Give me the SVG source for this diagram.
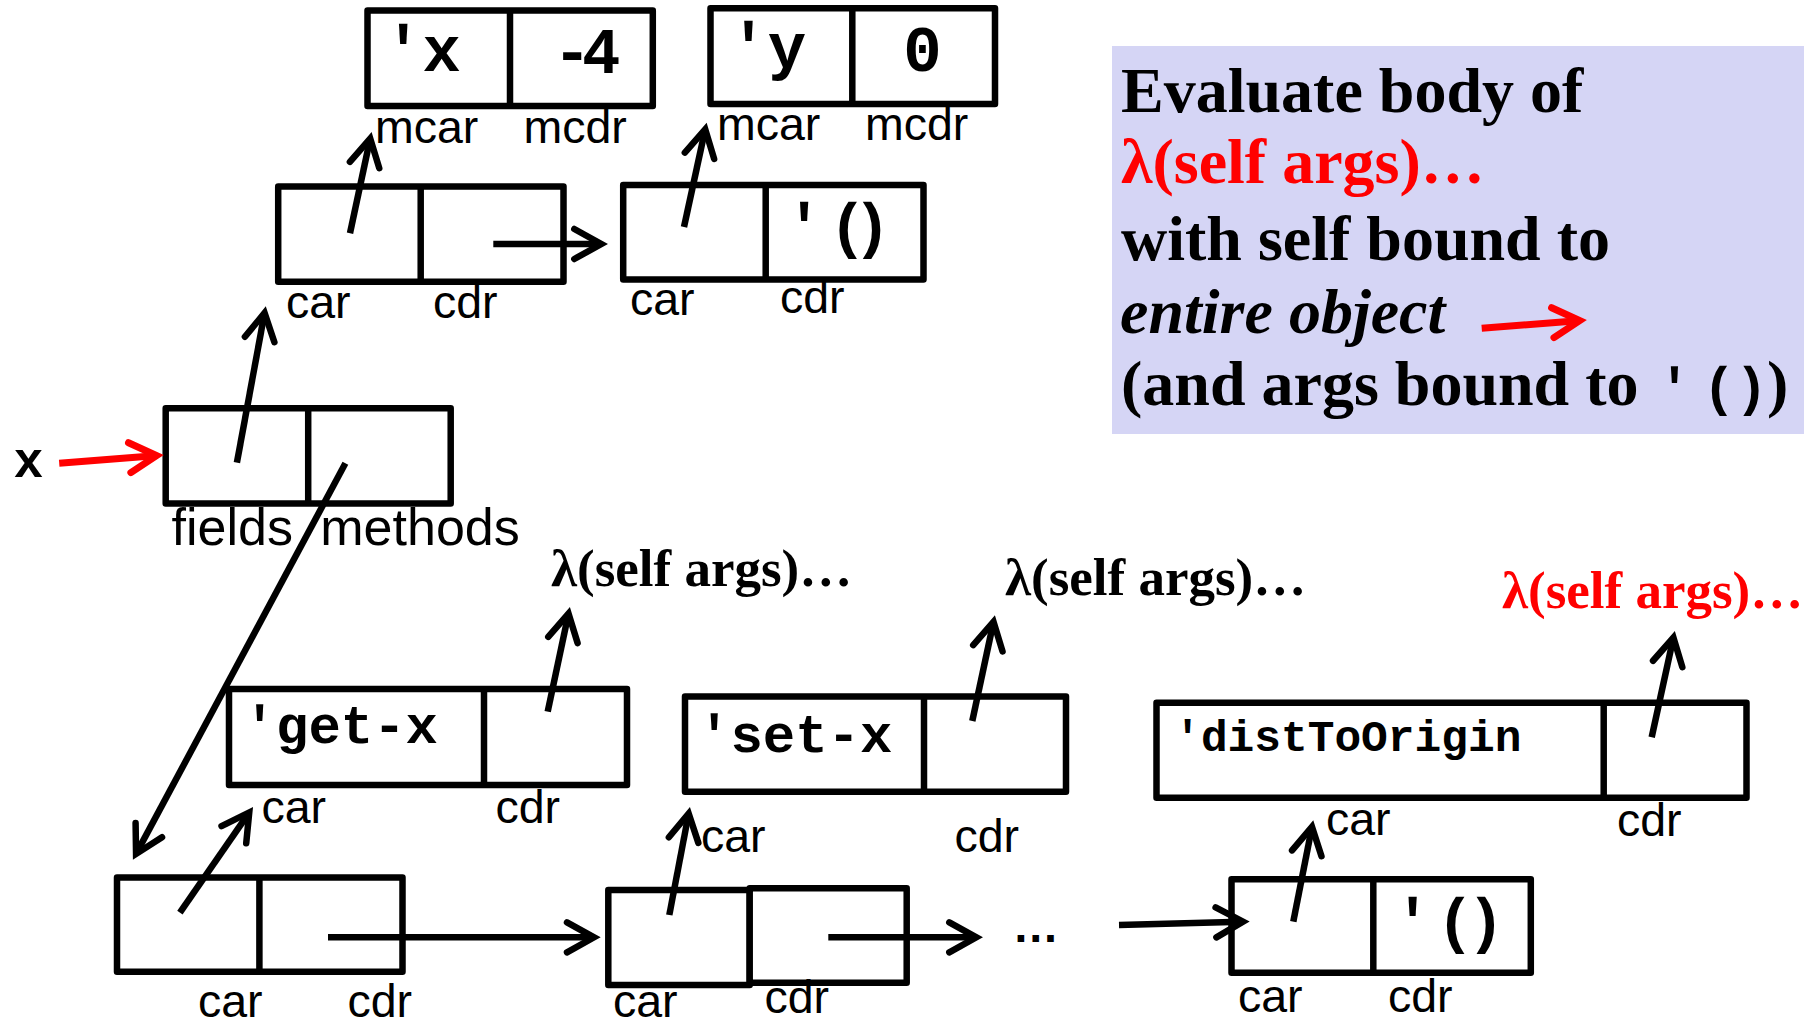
<svg xmlns="http://www.w3.org/2000/svg" width="1820" height="1028" viewBox="0 0 1820 1028">
<defs>
<style>
.box{fill:#fff;stroke:#000;stroke-width:6.5;stroke-linejoin:round}
.dv{stroke:#000;stroke-width:6.5}
.lbl{font-family:"Liberation Sans",Arial,sans-serif;font-size:46.5px;fill:#000}
.big{font-size:52px}
.mono{font-family:"Liberation Mono","Courier New",monospace;font-weight:bold;fill:#000}
.ser{font-family:"Liberation Serif","Times New Roman",serif;font-weight:bold;fill:#000}
.red{fill:#f00}
.con{fill:none;stroke:#000;stroke-width:6.5;stroke-linecap:butt;marker-end:url(#ah)}
.conr{fill:none;stroke:#f00;stroke-width:7;stroke-linecap:butt;marker-end:url(#ahr)}
</style>
<marker id="ah" markerUnits="userSpaceOnUse" viewBox="-40 -25 60 50" markerWidth="60" markerHeight="50" refX="0" refY="0" orient="auto" overflow="visible">
<path d="M-25,-15 L2,0 L-25,15" fill="none" stroke="#000" stroke-width="6.5" stroke-linecap="round" stroke-linejoin="miter"/>
</marker>
<marker id="ahr" markerUnits="userSpaceOnUse" viewBox="-40 -25 60 50" markerWidth="60" markerHeight="50" refX="0" refY="0" orient="auto" overflow="visible">
<path d="M-25,-15 L2,0 L-25,15" fill="none" stroke="#f00" stroke-width="7" stroke-linecap="round" stroke-linejoin="miter"/>
</marker>
</defs>
<rect width="1820" height="1028" fill="#fff"/>

<g id="panel">
<rect x="1112" y="46" width="692" height="388" fill="#d5d5f5"/>
<text class="ser" font-size="64" x="1121" y="112">Evaluate body of</text>
<text class="ser red" font-size="64" x="1121" y="183">λ(self args)…</text>
<text class="ser" font-size="64" x="1121" y="260">with self bound to</text>
<text class="ser" font-size="64" font-style="italic" x="1120" y="333">entire object</text>
<text class="ser" font-size="64" x="1121" y="405">(and args bound to <tspan class="mono" font-size="54" x="1658.3 1702.8 1735.3">'()</tspan><tspan x="1767">)</tspan></text>
</g>

<g id="cell-x">
<rect class="box" x="367.5" y="10.5" width="285.3" height="95.5"/>
<line class="dv" x1="510" y1="10.5" x2="510" y2="106"/>
<text class="mono" font-size="64" x="384" y="71">'x</text>
<text class="mono" font-size="64" x="553 582" y="73">-4</text>
<text class="lbl" x="375" y="143">mcar</text>
<text class="lbl" x="523.5" y="143">mcdr</text>
</g>

<g id="cell-y">
<rect class="box" x="710.5" y="8.2" width="284.5" height="95.8"/>
<line class="dv" x1="852.3" y1="8.2" x2="852.3" y2="104"/>
<text class="mono" font-size="64" x="729.3" y="68">'y</text>
<text class="mono" font-size="64" x="903.3" y="71">0</text>
<text class="lbl" x="717" y="140">mcar</text>
<text class="lbl" x="865" y="140">mcdr</text>
</g>

<g id="fields-pair1">
<rect class="box" x="278.2" y="186.5" width="285.3" height="95.3"/>
<line class="dv" x1="420.7" y1="186.5" x2="420.7" y2="281.8"/>
<text class="lbl" x="286" y="318">car</text>
<text class="lbl" x="433" y="318">cdr</text>
</g>

<g id="fields-pair2">
<rect class="box" x="623.2" y="185" width="300.3" height="94.5"/>
<line class="dv" x1="765.7" y1="185" x2="765.7" y2="279.5"/>
<text class="mono" font-size="62" x="785.4 828.9 853.4" y="246">'()</text>
<text class="lbl" x="630" y="315">car</text>
<text class="lbl" x="780" y="313">cdr</text>
</g>

<g id="var-x">
<text class="mono" font-size="50" x="13.4" y="477">x</text>
</g>

<g id="object">
<rect class="box" x="165.7" y="408.2" width="285" height="95.3"/>
<line class="dv" x1="308.2" y1="408.2" x2="308.2" y2="503.5"/>
<text class="lbl big" x="171.5" y="545">fields</text>
<text class="lbl big" x="320.3" y="545">methods</text>
</g>

<g id="method-get-x">
<rect class="box" x="229" y="689" width="398" height="96"/>
<line class="dv" x1="484" y1="689" x2="484" y2="785"/>
<text class="mono" font-size="54" x="243.6" y="743">'get-x</text>
<text class="lbl" x="261.5" y="823">car</text>
<text class="lbl" x="495.5" y="823">cdr</text>
</g>

<g id="method-set-x">
<rect class="box" x="685" y="696.5" width="381" height="95.3"/>
<line class="dv" x1="924" y1="696.5" x2="924" y2="791.8"/>
<text class="mono" font-size="54" x="698" y="752">'set-x</text>
<text class="lbl" x="701" y="852">car</text>
<text class="lbl" x="954.5" y="852">cdr</text>
</g>

<g id="method-dist">
<rect class="box" x="1156.5" y="702.7" width="590" height="95"/>
<line class="dv" x1="1603.7" y1="702.7" x2="1603.7" y2="797.7"/>
<text class="mono" font-size="44.5" x="1174.2" y="751">'distToOrigin</text>
<text class="lbl" x="1326" y="835">car</text>
<text class="lbl" x="1617" y="836">cdr</text>
</g>

<g id="lambda-1">
<text class="ser" font-size="53" x="551" y="586">λ(self args)…</text>
</g>
<g id="lambda-2">
<text class="ser" font-size="53" x="1005" y="595">λ(self args)…</text>
</g>
<g id="lambda-3">
<text class="ser red" font-size="53" x="1502" y="608">λ(self args)…</text>
</g>

<g id="list-1">
<rect class="box" x="117" y="877.5" width="285.5" height="94.3"/>
<line class="dv" x1="259.4" y1="877.5" x2="259.4" y2="971.8"/>
<text class="lbl" x="198" y="1017">car</text>
<text class="lbl" x="347.5" y="1017">cdr</text>
</g>

<g id="list-2">
<rect class="box" x="608.3" y="890" width="141.4" height="95"/>
<rect class="box" x="749.7" y="888.2" width="157" height="94.6"/>
<text class="lbl" x="613" y="1017">car</text>
<text class="lbl" x="764.5" y="1013">cdr</text>
</g>

<g id="ellipsis">
<text class="lbl" font-weight="bold" font-size="50" x="1012.5" y="942">…</text>
</g>

<g id="list-3">
<rect class="box" x="1231.5" y="879.2" width="299.3" height="93.6"/>
<line class="dv" x1="1373.3" y1="879.2" x2="1373.3" y2="972.8"/>
<text class="mono" font-size="62" x="1393.9 1436.4 1467.2" y="941">'()</text>
<text class="lbl" x="1238" y="1011.7">car</text>
<text class="lbl" x="1388" y="1011.7">cdr</text>
</g>

<g id="connectors">
<line class="con" x1="350" y1="233.3" x2="369.8" y2="140.5"/>
<line class="con" x1="493.3" y1="244" x2="599.3" y2="244"/>
<line class="con" x1="684" y1="227" x2="704.8" y2="131.3"/>
<line class="con" x1="236.9" y1="462.7" x2="264.2" y2="314.9"/>
<line class="con" x1="345.4" y1="463.3" x2="137" y2="852.1"/>
<line class="con" x1="547.7" y1="711.7" x2="568.1" y2="615.5"/>
<line class="con" x1="179.9" y1="912.7" x2="248.1" y2="814.1"/>
<line class="con" x1="328" y1="937.3" x2="592" y2="937.3"/>
<line class="con" x1="669.3" y1="915" x2="688.3" y2="815.5"/>
<line class="con" x1="972.3" y1="721" x2="993.1" y2="623.8"/>
<line class="con" x1="828.3" y1="937.3" x2="974.3" y2="937.3"/>
<line class="con" x1="1119" y1="925" x2="1241" y2="921.7"/>
<line class="con" x1="1293.3" y1="921.7" x2="1311.6" y2="828.8"/>
<line class="con" x1="1651.7" y1="737.3" x2="1673" y2="639.5"/>
<line class="conr" x1="59.2" y1="463.3" x2="154.6" y2="455.7"/>
<line class="conr" x1="1481.7" y1="328.3" x2="1577.7" y2="320.7"/>
</g>
</svg>
